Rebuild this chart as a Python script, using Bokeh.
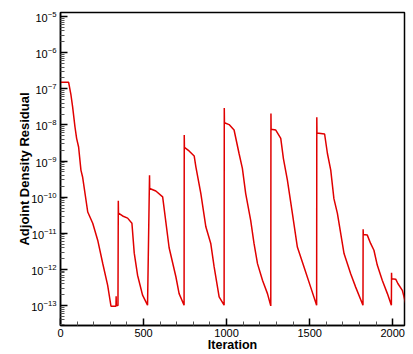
from bokeh.plotting import figure
from bokeh.models import FixedTicker, Range1d
from bokeh.embed import file_html
from bokeh.resources import INLINE

# Data (iteration, log10 of residual)
iteration = [0, 49, 63, 73, 87, 97, 109, 123, 133, 164, 194, 224, 254, 284, 304, 322, 334, 335, 336, 346,
             348, 349, 374, 404, 430, 444, 464, 494, 524,
             536, 537, 574, 615, 654, 695, 714, 744,
             745, 746, 774, 805, 815, 845, 875, 905, 925, 955, 985,
             986, 987, 1015, 1045, 1075, 1095, 1115, 1145, 1165, 1186, 1216, 1246, 1266,
             1267, 1268, 1296, 1326, 1342, 1366, 1396, 1426, 1466, 1506, 1542,
             1543, 1544, 1590, 1607, 1627, 1646, 1667, 1707, 1747, 1777, 1821,
             1822, 1823, 1847, 1867, 1887, 1907, 1937, 1968, 1992,
             1993, 1994, 2018, 2031, 2058, 2078]
log10_residual = [-6.82, -6.82, -7.17, -7.50, -8.05, -8.37, -8.61, -9.25, -9.44, -10.41, -10.72, -11.19, -11.83, -12.44, -13.02, -13.02, -13.02, -12.74, -13.0, -13.0,
                  -10.1, -10.44, -10.52, -10.58, -10.72, -11.55, -12.16, -12.71, -12.99,
                  -9.39, -9.76, -9.83, -9.99, -11.4, -12.21, -12.67, -12.99,
                  -8.28, -8.62, -8.72, -8.86, -9.16, -9.90, -10.82, -11.29, -11.93, -12.76, -12.99,
                  -7.53, -7.94, -7.99, -8.14, -8.79, -9.20, -9.90, -10.64, -11.28, -11.84, -12.30, -12.67, -13.01,
                  -7.68, -8.12, -8.14, -8.37, -8.93, -9.53, -10.45, -11.38, -11.93, -12.49, -12.99,
                  -7.79, -8.22, -8.25, -8.79, -9.25, -10.04, -10.45, -11.56, -12.12, -12.49, -12.99,
                  -10.89, -11.03, -11.05, -11.28, -11.47, -11.88, -12.30, -12.67, -12.99,
                  -12.09, -12.26, -12.27, -12.39, -12.58, -12.94]
residual = [10 ** v for v in log10_residual]

x_ticks = [0, 500, 1000, 1500, 2000]
x_minor = [v for v in range(0, 2100, 100) if v not in x_ticks]
y_exps = list(range(-13, -4))
y_ticks = [10.0 ** e for e in y_exps]
y_minor = [k * 10.0 ** e for e in range(-14, -4) for k in range(2, 10)]

FONT = "Liberation Sans"
W, H = 410, 354

p = figure(width=W, height=H, y_axis_type="log",
           x_range=Range1d(0, 2071), y_range=Range1d(2.8e-14, 1.3e-5),
           output_backend="svg", toolbar_location=None,
           min_border_left=60, min_border_right=6, min_border_top=12, min_border_bottom=29)
p.grid.visible = False
p.outline_line_color = "black"
p.outline_line_width = 1.5
p.background_fill_color = "white"

p.line(iteration, residual, line_color="#e00000", line_width=1.5)

for ax in (p.xaxis[0], p.yaxis[0]):
    ax.axis_line_color = "black"
    ax.axis_line_width = 1.5
    ax.major_tick_in = 7
    ax.major_tick_out = 0
    ax.minor_tick_in = 4
    ax.minor_tick_out = 0
    ax.major_tick_line_color = "black"
    ax.major_tick_line_width = 1.5
    ax.minor_tick_line_color = "#555555"
    ax.major_label_text_font = FONT
    ax.major_label_text_font_size = "11px"
    ax.major_label_text_color = "black"
    ax.axis_label_text_font = FONT
    ax.axis_label_text_font_style = "bold"
    ax.axis_label_text_color = "black"

p.xaxis.ticker = FixedTicker(ticks=x_ticks, minor_ticks=x_minor)
p.yaxis.ticker = FixedTicker(ticks=y_ticks, minor_ticks=y_minor)
p.xaxis.axis_label = "Iteration"
p.yaxis.axis_label = "Adjoint Density Residual"
p.xaxis.axis_label_text_font_size = "12.5px"
p.yaxis.axis_label_text_font_size = "13px"
p.xaxis.major_label_standoff = 3
p.xaxis.axis_label_standoff = -2
p.yaxis.major_label_standoff = 4
p.yaxis.axis_label_standoff = -4

open("out.html", "w").write(file_html(p, INLINE))
